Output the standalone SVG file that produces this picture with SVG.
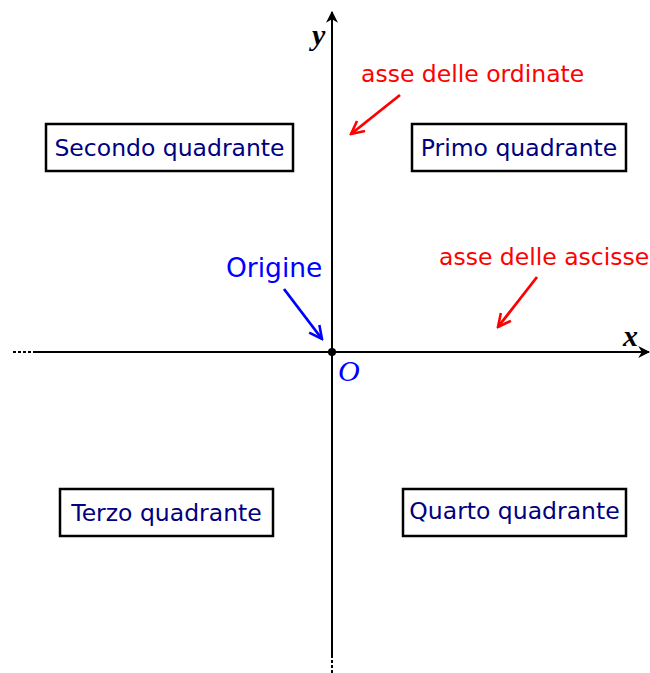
<svg xmlns="http://www.w3.org/2000/svg" width="650" height="673" viewBox="0 0 650 673">
<style>
.box{fill:#fff;stroke:#000;stroke-width:2.5}
.lbl{font-family:"DejaVu Sans",sans-serif;font-size:23.5px;fill:#000080;text-anchor:middle}
.red{font-family:"DejaVu Sans",sans-serif;font-size:23.5px;fill:#ff0000}
.blue{font-family:"DejaVu Sans",sans-serif;font-size:26.5px;fill:#0000ff}
.math{font-family:"Liberation Serif",serif;font-style:italic;font-size:30px}
.axis{stroke:#000;stroke-width:2;fill:none}
</style>
<defs>
<marker id="ah" viewBox="0 0 10 10" refX="9" refY="5" markerWidth="12" markerHeight="12" markerUnits="userSpaceOnUse" orient="auto"><path d="M0,0 L10,5 L0,10 L3,5 Z" fill="#000"/></marker>
<marker id="ar" viewBox="0 0 10 10" refX="9" refY="5" markerWidth="16" markerHeight="16" markerUnits="userSpaceOnUse" orient="auto"><path d="M1,1 L9,5 L1,9" fill="none" stroke="#ff0000" stroke-width="1.6"/></marker>
<marker id="ab" viewBox="0 0 10 10" refX="9" refY="5" markerWidth="16" markerHeight="16" markerUnits="userSpaceOnUse" orient="auto"><path d="M1,1 L9,5 L1,9" fill="none" stroke="#0000ff" stroke-width="1.6"/></marker>
</defs>
<g id="connectors">
<line class="axis" x1="35" y1="352" x2="649" y2="352" marker-end="url(#ah)"/>
<line class="axis" x1="13" y1="352" x2="35" y2="352" stroke-dasharray="3,2"/>
<line class="axis" x1="332" y1="655" x2="332" y2="12" marker-end="url(#ah)"/>
<line class="axis" x1="332" y1="655" x2="332" y2="673" stroke-dasharray="3,2"/>
<line x1="400" y1="95" x2="351" y2="134" stroke="#ff0000" stroke-width="2.8" marker-end="url(#ar)"/>
<line x1="537" y1="277" x2="498" y2="327" stroke="#ff0000" stroke-width="2.8" marker-end="url(#ar)"/>
<line x1="284" y1="289" x2="322" y2="339" stroke="#0000ff" stroke-width="2.8" marker-end="url(#ab)"/>
</g>
<g id="origin"><circle cx="332" cy="352" r="4" fill="#000"/><text class="math" x="338" y="381" fill="#0000ff">O</text></g>
<g id="yaxis-label"><text class="math" x="312" y="45" font-weight="bold">y</text></g>
<g id="xaxis-label"><text class="math" x="623" y="346" font-weight="bold">x</text></g>
<g id="secondo"><rect class="box" x="46" y="124" width="247" height="47"/><text class="lbl" x="169.5" y="156">Secondo quadrante</text></g>
<g id="primo"><rect class="box" x="412" y="124" width="214" height="47"/><text class="lbl" x="519" y="156">Primo quadrante</text></g>
<g id="terzo"><rect class="box" x="60" y="489" width="213" height="47"/><text class="lbl" x="166.5" y="521">Terzo quadrante</text></g>
<g id="quarto"><rect class="box" x="403" y="489" width="223" height="47"/><text class="lbl" x="514.5" y="519">Quarto quadrante</text></g>
<g id="ordinate"><text class="red" x="361" y="82">asse delle ordinate</text></g>
<g id="ascisse"><text class="red" x="439" y="265">asse delle ascisse</text></g>
<g id="origine"><text class="blue" x="226" y="277">Origine</text></g>
</svg>
